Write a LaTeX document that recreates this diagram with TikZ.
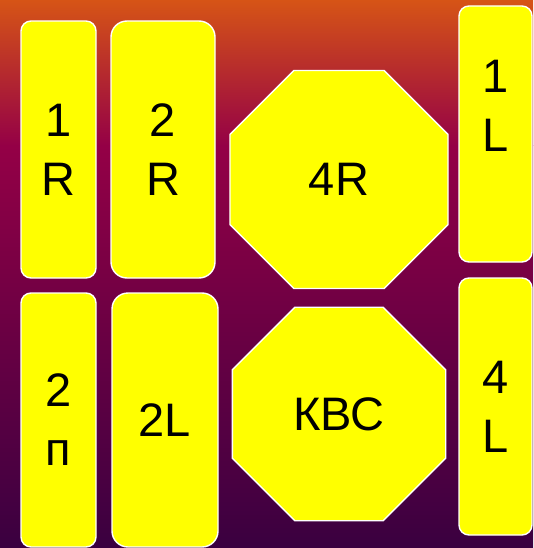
\documentclass[tikz,border=0pt]{standalone}
\usepackage{fontspec}
\setmainfont{Liberation Sans}
\usetikzlibrary{shapes.geometric}

\definecolor{bgtop}{RGB}{214,84,22}
\definecolor{bgmid}{RGB}{148,0,70}
\definecolor{bgbot}{RGB}{58,0,64}
\definecolor{tileyellow}{RGB}{255,255,0}

\begin{document}
\begin{tikzpicture}[
    x=1pt, y=-1pt,
    tile/.style={
        rectangle,
        rounded corners=#1,
        draw=white,
        fill=tileyellow,
        line width=1.4pt,
        align=center,
        inner sep=0pt,
        font=\fontsize{47}{59}\selectfont
    },
    octa/.style={
        regular polygon,
        regular polygon sides=8,
        minimum size=#1,
        draw=white,
        fill=tileyellow,
        line width=1.4pt,
        inner sep=0pt,
        font=\fontsize{47}{59}\selectfont
    }
]

% --- background ---
\useasboundingbox (0,0) rectangle (533,548);
\shade[top color=bgtop, bottom color=bgmid] (0,0) rectangle (533,146);
\shade[top color=bgmid, bottom color=bgbot] (0,146) rectangle (533,548);

% --- left column ---
\node[tile=10pt, minimum width=75pt, minimum height=257pt] (r1) at (58.5, 149.5) {1\\R};
\node[tile=10pt, minimum width=75pt, minimum height=254pt] (p2) at (58.5, 420) {2\\п};

% --- second column ---
\node[tile=16pt, minimum width=104pt, minimum height=257pt] (r2) at (163, 149.5) {2\\R};
\node[tile=16pt, minimum width=106pt, minimum height=254pt] (l2) at (165, 420) {2L};

% --- octagons ---
\node[octa=236pt] (r4) at (339, 179.5) {4R};
\node[octa=231pt] (kvs) at (339, 414) {КВС};

% --- right column ---
\node[tile=10pt, minimum width=73pt, minimum height=256pt,
      label={[font=\fontsize{47}{59}\selectfont, align=center, yshift=28pt]center:1\\L}] (l1) at (495.5, 134) {};
\node[tile=10pt, minimum width=73pt, minimum height=257pt] (l4) at (495.5, 406.5) {4\\L};

\end{tikzpicture}
\end{document}
